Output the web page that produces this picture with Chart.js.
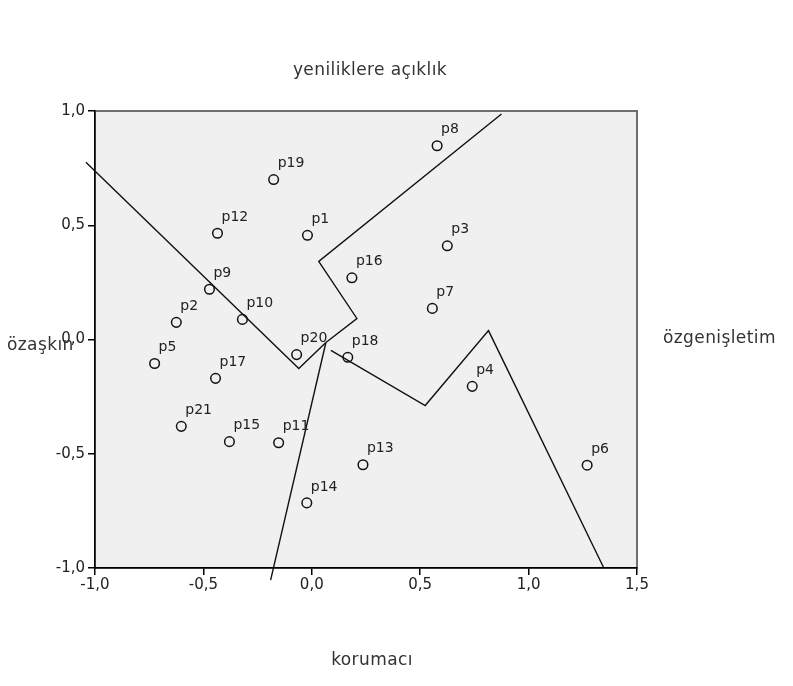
<!DOCTYPE html>
<html>
<head>
<meta charset="utf-8">
<script src="https://cdn.jsdelivr.net/npm/chart.js@4.4.1/dist/chart.umd.min.js"></script>
<style>
  html, body { margin: 0; padding: 0; background: #fff; }
  #wrap { width: 793px; height: 686px; }
</style>
</head>
<body>
<div id="wrap"><canvas id="chart" width="793" height="686"></canvas></div>
<script>
// stimulus points
const pointNames = ['p1','p2','p3','p4','p5','p6','p7','p8','p9','p10','p11',
  'p12','p13','p14','p15','p16','p17','p18','p19','p20','p21'];
const dimX = [-0.02, -0.625, 0.625, 0.74, -0.725, 1.27, 0.556, 0.578, -0.472, -0.32, -0.153,
  -0.435, 0.236, -0.023, -0.38, 0.185, -0.444, 0.166, -0.176, -0.07, -0.602];
const dimY = [0.456, 0.075, 0.41, -0.205, -0.105, -0.55, 0.136, 0.848, 0.22, 0.088, -0.452,
  0.465, -0.548, -0.715, -0.447, 0.27, -0.17, -0.078, 0.70, -0.066, -0.38];

// region boundary lines
const lineAX = [-1.042, -0.060, 0.065];
const lineAY = [0.776, -0.127, -0.013];
const lineBX = [0.065, 0.208, 0.032, 0.875];
const lineBY = [-0.013, 0.092, 0.342, 0.987];
const lineCX = [0.065, -0.190];
const lineCY = [-0.013, -1.053];
const lineDX = [0.088, 0.523, 0.815, 1.347];
const lineDY = [-0.048, -0.289, 0.039, -1.0];

const axisTicks = [-1.0, -0.5, 0.0, 0.5, 1.0, 1.5];

const toXY = (xs, ys) => xs.map((x, i) => ({ x: x, y: ys[i] }));
const fmt = v => Number(v).toFixed(1).replace('.', ',');

const lineStyle = {
  showLine: true,
  pointRadius: 0,
  borderColor: '#111',
  borderWidth: 1.4,
  tension: 0,
  clip: false,
};

const plotFrame = {
  id: 'plotFrame',
  beforeDraw(chart) {
    const { ctx, chartArea: a } = chart;
    ctx.save();
    ctx.fillStyle = '#f0f0f0';
    ctx.fillRect(a.left, a.top, a.right - a.left, a.bottom - a.top);
    ctx.strokeStyle = '#6e6e6e';
    ctx.lineWidth = 2;
    ctx.strokeRect(a.left, a.top, a.right - a.left, a.bottom - a.top);
    ctx.restore();
  },
  afterDraw(chart) {
    const { ctx } = chart;
    const xs = chart.scales.x, ys = chart.scales.y;
    ctx.save();
    // point labels
    ctx.fillStyle = '#222';
    ctx.font = '14px "DejaVu Sans", sans-serif';
    ctx.textAlign = 'left';
    ctx.textBaseline = 'middle';
    pointNames.forEach((n, i) => {
      const px = xs.getPixelForValue(dimX[i]);
      const py = ys.getPixelForValue(dimY[i]);
      ctx.fillText(n, px + 4, py - 16);
    });
    // dimension names
    ctx.fillStyle = '#333';
    ctx.font = '17px "DejaVu Sans", sans-serif';
    ctx.letterSpacing = '0.4px';
    ctx.textAlign = 'center';
    ctx.fillText('yeniliklere açıklık', 370, 71);
    ctx.fillText('korumacı', 372, 661);
    ctx.textAlign = 'left';
    ctx.fillText('özgenişletim', 663, 339);
    ctx.fillText('özaşkın', 7, 346);
    ctx.restore();
  }
};

new Chart(document.getElementById('chart'), {
  type: 'scatter',
  data: {
    datasets: [
      {
        label: 'points',
        data: toXY(dimX, dimY),
        pointRadius: 4.8,
        pointHoverRadius: 4.8,
        pointBorderWidth: 1.5,
        borderColor: '#111',
        backgroundColor: 'rgba(0,0,0,0)',
      },
      Object.assign({ label: 'a', data: toXY(lineAX, lineAY) }, lineStyle),
      Object.assign({ label: 'b', data: toXY(lineBX, lineBY) }, lineStyle),
      Object.assign({ label: 'c', data: toXY(lineCX, lineCY) }, lineStyle),
      Object.assign({ label: 'd', data: toXY(lineDX, lineDY) }, lineStyle),
    ],
  },
  options: {
    responsive: false,
    animation: false,
    events: [],
    layout: { padding: { left: 0, top: 111, right: 156, bottom: 0 } },
    plugins: {
      legend: { display: false },
      tooltip: { enabled: false },
    },
    scales: {
      x: {
        min: -1.0,
        max: 1.5,
        afterFit: s => { s.height = 118; },
        afterBuildTicks: s => { s.ticks = axisTicks.map(v => ({ value: v })); },
        ticks: {
          callback: fmt,
          color: '#222',
          font: { family: '"DejaVu Sans", sans-serif', size: 15 },
          padding: 1,
          maxRotation: 0,
        },
        grid: { drawOnChartArea: false, drawTicks: true, tickLength: 7, color: '#000', lineWidth: 1.5 },
        border: { display: true, color: '#000', width: 1.5 },
      },
      y: {
        min: -1.0,
        max: 1.0,
        afterFit: s => { s.width = 95; },
        afterBuildTicks: s => { s.ticks = axisTicks.filter(v => v <= 1).map(v => ({ value: v })); },
        ticks: {
          callback: fmt,
          color: '#222',
          font: { family: '"DejaVu Sans", sans-serif', size: 15 },
          padding: 3,
        },
        grid: { drawOnChartArea: false, drawTicks: true, tickLength: 7, color: '#000', lineWidth: 1.5 },
        border: { display: true, color: '#000', width: 1.5 },
      },
    },
  },
  plugins: [plotFrame],
});
</script>
</body>
</html>
